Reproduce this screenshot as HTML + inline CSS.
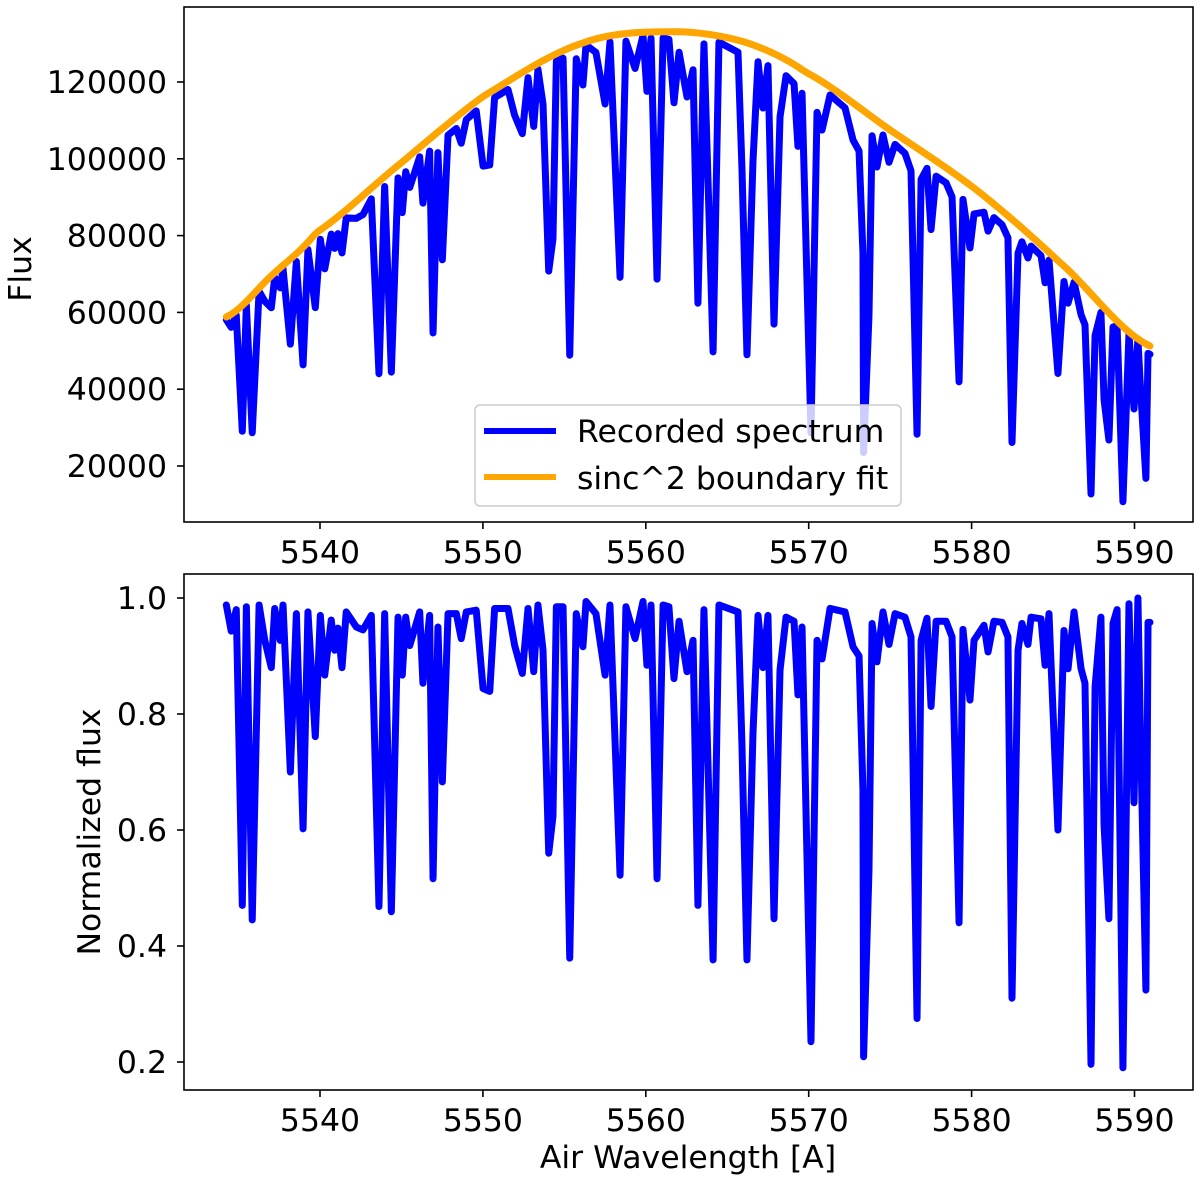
<!DOCTYPE html>
<html><head><meta charset="utf-8"><style>
html,body{margin:0;padding:0;background:#fff;}
svg{display:block;font-family:"DejaVu Sans","Liberation Sans",sans-serif;}
</style></head><body>
<svg id="chart" width="1200" height="1184" viewBox="0 0 1200 1184" xmlns="http://www.w3.org/2000/svg"></svg>
<script>
// ---- data ----
const wavelengths = [5534.25,5534.55,5534.86,5535.23,5535.48,5535.84,5536.26,5536.61,5537.01,5537.22,5537.56,5537.73,5538.18,5538.55,5538.96,5539.26,5539.71,5540.02,5540.29,5540.69,5540.90,5541.10,5541.35,5541.61,5542.23,5542.64,5543.15,5543.62,5543.97,5544.38,5544.79,5545.05,5545.26,5545.51,5546.12,5546.32,5546.73,5546.94,5547.24,5547.51,5547.86,5548.37,5548.67,5548.98,5549.59,5550.01,5550.42,5550.72,5551.54,5551.95,5552.42,5552.77,5553.12,5553.38,5553.69,5554.04,5554.30,5554.51,5554.92,5555.33,5555.73,5556.14,5556.33,5556.94,5557.50,5557.80,5558.42,5558.78,5559.34,5559.83,5560.07,5560.32,5560.69,5561.06,5561.42,5561.73,5562.04,5562.53,5562.90,5563.20,5563.57,5564.13,5564.49,5565.66,5565.90,5566.21,5566.58,5566.89,5567.19,5567.50,5567.87,5568.24,5568.61,5569.10,5569.34,5569.59,5570.14,5570.51,5570.82,5571.31,5572.23,5572.72,5573.09,5573.33,5573.37,5573.70,5573.89,5574.19,5574.56,5574.93,5575.30,5575.91,5576.28,5576.65,5576.90,5577.26,5577.51,5577.82,5578.43,5578.80,5579.23,5579.47,5579.90,5580.15,5580.76,5581.01,5581.37,5581.87,5582.23,5582.48,5582.85,5583.09,5583.46,5583.65,5584.26,5584.51,5584.75,5585.30,5585.67,5585.92,5586.29,5586.72,5586.96,5587.33,5587.58,5587.94,5588.13,5588.43,5588.68,5588.93,5589.29,5589.66,5589.97,5590.21,5590.34,5590.70,5590.83,5590.95];
const normFlux = [0.988,0.943,0.98,0.47,0.985,0.445,0.988,0.927,0.88,0.982,0.927,0.988,0.70,0.973,0.602,0.976,0.761,0.97,0.867,0.962,0.91,0.948,0.88,0.976,0.95,0.945,0.97,0.468,0.973,0.459,0.967,0.867,0.967,0.918,0.976,0.853,0.97,0.516,0.95,0.683,0.973,0.973,0.93,0.976,0.979,0.844,0.839,0.982,0.982,0.918,0.87,0.982,0.873,0.988,0.91,0.56,0.623,0.985,0.985,0.379,0.973,0.916,0.994,0.973,0.867,0.988,0.522,0.985,0.93,0.994,0.884,0.988,0.516,0.988,0.985,0.861,0.96,0.873,0.927,0.47,0.98,0.376,0.988,0.976,0.75,0.376,0.767,0.97,0.88,0.97,0.447,0.876,0.967,0.96,0.833,0.95,0.235,0.927,0.895,0.982,0.976,0.916,0.90,0.67,0.209,0.53,0.956,0.89,0.976,0.92,0.973,0.967,0.933,0.275,0.927,0.965,0.813,0.96,0.96,0.933,0.44,0.946,0.824,0.927,0.953,0.907,0.96,0.958,0.933,0.31,0.91,0.956,0.92,0.967,0.964,0.884,0.973,0.60,0.944,0.878,0.976,0.878,0.853,0.196,0.847,0.967,0.609,0.447,0.956,0.98,0.19,0.99,0.647,1.0,0.805,0.324,0.958,0.958];
const fitWavelengths = [5534.25,5537,5539.75,5545,5550,5556.1,5561.5,5566,5569.8,5575,5580.3,5585.4,5590.95];
const fitValues = [58800,69500,80700,99000,116200,130100,133100,130500,122600,107500,91900,73100,51250];
const xTicks = [5540,5550,5560,5570,5580,5590];
const topYTicks = [20000,40000,60000,80000,100000,120000];
const botYTicks = [0.2,0.4,0.6,0.8,1.0];

// ---- axes ----
const L=184, R=1193;
const T1=7, B1=522, T2=574, B2=1090;
const xs = v => 320 + (v-5540)*16.29;
const y1 = v => 466 - (v-20000)*0.00384;
const y2 = v => 598 + (1-v)*580;
const NS="http://www.w3.org/2000/svg";
const svg=document.getElementById('chart');
function el(tag,attrs,parent){const e=document.createElementNS(NS,tag);for(const k in attrs)e.setAttribute(k,attrs[k]);(parent||svg).appendChild(e);return e;}

function fitAt(w){
  if(w<=fitWavelengths[0])return fitValues[0];
  for(let i=1;i<fitWavelengths.length;i++){
    if(w<=fitWavelengths[i]){
      const p0=fitValues[Math.max(i-2,0)],p1=fitValues[i-1],p2=fitValues[i],p3=fitValues[Math.min(i+1,fitValues.length-1)];
      const t=(w-fitWavelengths[i-1])/(fitWavelengths[i]-fitWavelengths[i-1]);
      return 0.5*((2*p1)+(-p0+p2)*t+(2*p0-5*p1+4*p2-p3)*t*t+(-p0+3*p1-3*p2+p3)*t*t*t);
    }
  }
  return fitValues[fitValues.length-1];
}

const defs=el('defs',{});
const c1=el('clipPath',{id:'c1'},defs);el('rect',{x:L,y:T1,width:R-L,height:B1-T1},c1);
const c2=el('clipPath',{id:'c2'},defs);el('rect',{x:L,y:T2,width:R-L,height:B2-T2},c2);

const gTop=el('g',{'clip-path':'url(#c1)'});


let d='';
wavelengths.forEach((w,i)=>{d+=(i?'L':'M')+xs(w).toFixed(2)+','+y1(normFlux[i]*fitAt(w)).toFixed(2);});
const rec=el('path',{d:d,fill:'none',stroke:'#0000ff','stroke-width':7,'stroke-linejoin':'round','stroke-linecap':'round'},gTop);


let fd='';
const w0=fitWavelengths[0], w1=fitWavelengths[fitWavelengths.length-1];
for(let k=0;k<=200;k++){const w=w0+(w1-w0)*k/200;fd+=(k?'L':'M')+xs(w).toFixed(2)+','+y1(fitAt(w)).toFixed(2);}
const fit=el('path',{d:fd,fill:'none',stroke:'#ffa500','stroke-width':7,'stroke-linecap':'round'},gTop);



const gBot=el('g',{'clip-path':'url(#c2)'});


let d2='';
wavelengths.forEach((w,i)=>{d2+=(i?'L':'M')+xs(w).toFixed(2)+','+y2(normFlux[i]).toFixed(2);});
const nl=el('path',{d:d2,fill:'none',stroke:'#0000ff','stroke-width':7,'stroke-linejoin':'round','stroke-linecap':'round'},gBot);



function frame(T,B,name){
  const r=el('rect',{x:L,y:T,width:R-L,height:B-T,fill:'none',stroke:'#000','stroke-width':1.6});
  
  
}
frame(T1,B1,'top-axes-frame');
frame(T2,B2,'bottom-axes-frame');

const FS=31.5;
function xAxis(B,name){
  const g=el('g',{});
  
  
  xTicks.forEach(v=>{
    el('line',{x1:xs(v),x2:xs(v),y1:B,y2:B+7,stroke:'#000','stroke-width':1.6},g);
    const t=el('text',{x:xs(v),y:B+41,'text-anchor':'middle','font-size':FS,fill:'#000'},g);
    
    
    t.textContent=v;
  });
}
xAxis(B1,'top-x-axis');
xAxis(B2,'bottom-x-axis');

const gy1=el('g',{});


topYTicks.forEach(v=>{
  el('line',{x1:L-7,x2:L,y1:y1(v),y2:y1(v),stroke:'#000','stroke-width':1.6},gy1);
  const t=el('text',{x:L-17,y:y1(v)+11,'text-anchor':'end','font-size':FS,fill:'#000'},gy1);
  
  
  t.textContent=v;
});
const gy2=el('g',{});


botYTicks.forEach(v=>{
  el('line',{x1:L-7,x2:L,y1:y2(v),y2:y2(v),stroke:'#000','stroke-width':1.6},gy2);
  const t=el('text',{x:L-17,y:y2(v)+11,'text-anchor':'end','font-size':FS,fill:'#000'},gy2);
  
  
  t.textContent=v.toFixed(1);
});

const ty=el('text',{x:0,y:0,transform:'translate(31,269) rotate(-90)','text-anchor':'middle','font-size':FS,fill:'#000'});


ty.textContent='Flux';
const by=el('text',{x:0,y:0,transform:'translate(100,832) rotate(-90)','text-anchor':'middle','font-size':FS,fill:'#000'});


by.textContent='Normalized flux';
const bx=el('text',{x:688,y:1168,'text-anchor':'middle','font-size':FS,fill:'#000'});


bx.textContent='Air Wavelength [A]';

const lg=el('g',{});


el('rect',{x:475,y:405,width:426,height:101,rx:5,fill:'#fff','fill-opacity':0.8,stroke:'#cccccc','stroke-width':1.5},lg);
const l1=el('line',{x1:484,x2:556,y1:431,y2:431,stroke:'#0000ff','stroke-width':6},lg);


const t1=el('text',{x:577,y:442,'font-size':FS,fill:'#000'},lg);


t1.textContent='Recorded spectrum';
const l2=el('line',{x1:484,x2:556,y1:477,y2:477,stroke:'#ffa500','stroke-width':6},lg);


const t2=el('text',{x:577,y:489,'font-size':FS,fill:'#000'},lg);


t2.textContent='sinc^2 boundary fit';
</script>
</body></html>
